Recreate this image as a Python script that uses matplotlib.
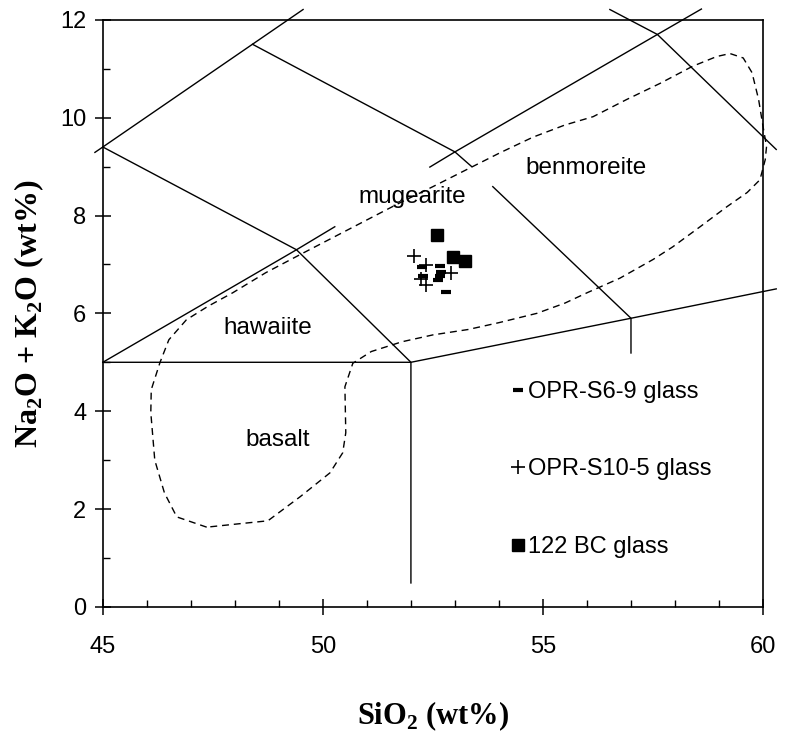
import matplotlib
matplotlib.use('Agg')
import matplotlib.pyplot as plt
from matplotlib.ticker import MultipleLocator

plt.rcParams['font.family'] = ['Liberation Sans', 'DejaVu Sans']
plt.rcParams['mathtext.fontset'] = 'custom'
plt.rcParams['mathtext.rm'] = 'Liberation Serif:bold'
plt.rcParams['mathtext.bf'] = 'Liberation Serif:bold'

# sample data (SiO2, Na2O+K2O)
s69_sio2 = [52.25, 52.27, 52.66, 52.69, 52.66, 52.62, 52.80]
s69_alk = [6.95, 6.76, 6.96, 6.85, 6.77, 6.69, 6.43]
s105_sio2 = [52.08, 52.35, 52.92, 52.22, 52.35]
s105_alk = [7.18, 6.98, 6.82, 6.70, 6.58]
bc_sio2 = [52.60, 52.96, 53.23]
bc_alk = [7.61, 7.16, 7.08]

# field boundaries (Le Bas et al. 1986), drawn in pieces as in the original
bounds = [
    ([44.82, 45.0, 48.4, 49.55], [9.29, 9.4, 11.5, 12.21]),
    ([45.0, 49.4, 52.0, 52.0], [9.4, 7.3, 5.0, 0.49]),
    ([45.0, 52.0, 57.0, 60.3], [5.0, 5.0, 5.9, 6.5]),
    ([45.0, 49.4, 50.27], [5.0, 7.3, 7.77]),
    ([52.43, 53.0, 57.6, 58.6], [8.99, 9.3, 11.7, 12.22]),
    ([48.4, 53.0, 53.38], [11.5, 9.3, 9.0]),
    ([53.86, 57.0, 57.0], [8.59, 5.9, 5.19]),
    ([56.52, 57.6, 60.3], [12.21, 11.7, 9.35]),
]

# dashed envelope of regional lavas
env_sio2 = [47.36, 46.68, 46.40, 46.18, 46.09, 46.10, 46.30, 46.50, 46.90, 47.40,
            47.95, 48.70, 49.48, 50.23, 51.00, 51.75, 52.50, 53.27, 54.02, 54.77,
            55.50, 56.14, 56.90, 57.66, 58.40, 58.95, 59.25, 59.55, 59.75, 59.90,
            60.00, 60.08, 60.05, 59.93, 59.64, 59.18, 58.57, 57.95, 57.50, 56.75,
            56.00, 55.50, 54.86, 54.00, 53.30, 52.50, 51.80, 51.10, 50.68, 50.50,
            50.52, 50.45, 50.16, 49.48, 48.75, 48.10, 47.36]
env_alk = [1.63, 1.84, 2.33, 3.00, 3.97, 4.44, 5.00, 5.46, 5.87, 6.15,
           6.42, 6.83, 7.20, 7.55, 7.91, 8.26, 8.59, 8.94, 9.28, 9.60,
           9.85, 10.02, 10.37, 10.70, 11.05, 11.25, 11.31, 11.22, 10.92, 10.37,
           9.82, 9.41, 9.14, 8.73, 8.47, 8.18, 7.77, 7.36, 7.10, 6.72,
           6.42, 6.21, 6.00, 5.81, 5.67, 5.56, 5.42, 5.22, 4.98, 4.50,
           3.56, 3.15, 2.74, 2.25, 1.76, 1.70, 1.63]

field_names = ['mugearite', 'benmoreite', 'hawaiite', 'basalt']
field_x = [52.02, 55.98, 48.75, 48.98]
field_y = [8.38, 8.98, 5.7, 3.42]

fig = plt.figure(figsize=(7.85, 7.33), dpi=100)
ax = fig.add_axes([0.131, 0.172, 0.841, 0.801])

for xs, ys in bounds:
    ax.plot(xs, ys, color='black', lw=1.0, clip_on=False)

ax.plot(env_sio2, env_alk, color='black', lw=1.0, ls=(0, (5, 3.5)), clip_on=False)

for name, fx, fy in zip(field_names, field_x, field_y):
    ax.text(fx, fy, name, fontsize=17.5, ha='center', va='center')

ax.plot(s69_sio2, s69_alk, ls='none', marker='_', ms=7, mew=3, color='black',
        label='OPR-S6-9 glass')
ax.plot(s105_sio2, s105_alk, ls='none', marker='+', ms=10, mew=1.2, color='black',
        label='OPR-S10-5 glass')
ax.plot(bc_sio2, bc_alk, ls='none', marker='s', ms=8, color='black',
        label='122 BC glass')

leg = ax.legend(loc='upper left', bbox_to_anchor=(0.6, 0.405), frameon=False,
                fontsize=17, numpoints=1, handlelength=0.6, handletextpad=0.15,
                labelspacing=2.35, borderpad=0)

ax.set_xlim(45, 60)
ax.set_ylim(0, 12)
ax.xaxis.set_major_locator(MultipleLocator(5))
ax.xaxis.set_minor_locator(MultipleLocator(1))
ax.yaxis.set_major_locator(MultipleLocator(2))
ax.yaxis.set_minor_locator(MultipleLocator(1))
ax.tick_params(which='major', direction='inout', length=12, width=1.1, labelsize=17)
ax.tick_params(axis='x', which='major', pad=15)
ax.tick_params(axis='y', which='major', pad=6)
ax.tick_params(which='minor', direction='in', length=5, width=1.0)
for sp in ax.spines.values():
    sp.set_linewidth(1.2)

ax.set_xlabel(r'SiO$_2$ (wt%)', fontsize=22, fontfamily='Liberation Serif',
              fontweight='bold', labelpad=30)
ax.set_ylabel(r'Na$_2$O + K$_2$O (wt%)', fontsize=23, fontfamily='Liberation Serif',
              fontweight='bold', labelpad=10)

fig.savefig('out.png', dpi=100)
